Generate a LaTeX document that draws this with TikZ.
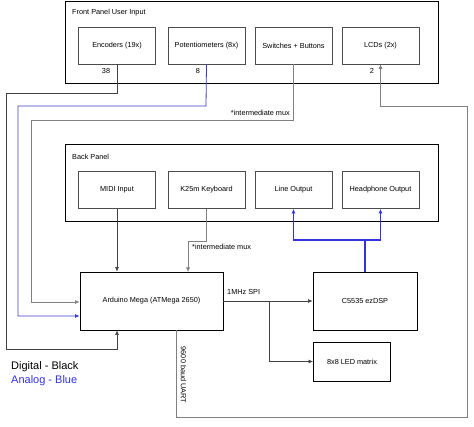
\documentclass[tikz,border=0pt]{standalone}
\usepackage{fontspec}
\setmainfont{Liberation Sans}
\usetikzlibrary{arrows.meta}
\definecolor{anblue}{RGB}{60,60,200}
\definecolor{audblue}{RGB}{50,50,225}
\begin{document}
\begin{tikzpicture}[x=1pt,y=-1pt,
  panel/.style={draw=black,line width=0.9pt},
  box/.style={draw=black!70,line width=0.6pt,minimum width=77pt,minimum height=37pt,font=\fontsize{7.3}{8}\selectfont,inner sep=0pt},
  bigbox/.style={draw=black,line width=0.8pt,minimum height=58pt,font=\fontsize{7.3}{8}\selectfont,inner sep=0pt},
  lbl/.style={font=\fontsize{7.3}{8}\selectfont,inner sep=0pt},
  wire/.style={draw=black!75,line width=0.6pt},
  mux/.style={draw=black!50,line width=0.6pt},
  tip/.style={-{Latex[length=4.5pt,width=4pt]}},
  analog/.style={draw=anblue,line width=0.8pt},
  audio/.style={draw=audblue,line width=1.1pt}]
\useasboundingbox (0,0) rectangle (474,427);
% panels
\draw[panel] (65,1) rectangle (438,83);
\node[lbl,anchor=west] (fplabel) at (72,13) {Front Panel User Input};
\draw[panel] (65,144) rectangle (438,221);
\node[lbl,anchor=west] (bplabel) at (72,157) {Back Panel};
% front panel boxes
\node[box] (enc) at (117,45.5) {Encoders (19x)};
\node[box] (pot) at (206.5,45.5) {Potentiometers (8x)};
\node[box] (sw) at (293.5,45.5) {Switches + Buttons};
\node[box] (lcd) at (380.5,45.5) {LCDs (2x)};
% back panel boxes
\node[box] (midi) at (117,190) {MIDI Input};
\node[box] (kb) at (206.5,190) {K25m Keyboard};
\node[box] (line) at (293.5,190) {Line Output};
\node[box] (hp) at (380.5,190) {Headphone Output};
% main boxes
\node[bigbox,minimum width=143pt] (ard) at (151.5,301) {Arduino Mega (ATMega 2650)};
\node[bigbox,minimum width=104pt] (dsp) at (365,301) {C5535 ezDSP};
\node[bigbox,minimum width=77pt,minimum height=39pt] (led) at (352,361.5) {8x8 LED matrix};
% count labels
\node[lbl] (n38) at (106,71) {38};
\node[lbl] (n8) at (198,71) {8};
\node[lbl] (n2) at (372,71) {2};
% encoders
\draw[wire,tip] (enc.south) -- (117,93) -- (6,93) -- (6,349) -- (117,349) -- (enc.south |- ard.south);
% potentiometers (analog)
\draw[analog,tip] (pot.south) -- (206,106) -- (18,106) -- (18,316) -- (ard.west |- 0,316);
% switches
\draw[mux,tip] (sw.south) -- (293.5,120) -- (31,120) -- (31,302) -- (ard.west |- 0,302);
\node[lbl,anchor=east] (mux1) at (290,113) {*intermediate mux};
% LCD via UART
\coordinate (uart) at (176,330);
\draw[mux,tip] (ard.south -| uart) -- (176,417) -- (467,417) -- (467,106) -- (380.5,106) -- (lcd.south);
\node[lbl,rotate=-90] (uartlbl) at (183.5,375) {9600 baud UART};
% midi
\draw[wire,tip] (midi.south) -- (midi.south |- ard.north);
% keyboard
\draw[mux,tip] (kb.south) -- (206.5,241) -- (188,241) -- (188,272);
\node[lbl,anchor=west] (mux2) at (192,247) {*intermediate mux};
% audio
\draw[audio,tip] (dsp.north) -- (365,240) -- (293.5,240) -- (line.south);
\draw[audio,tip] (365,240) -- (380.5,240) -- (hp.south);
% SPI
\draw[wire,tip] (ard.east) -- (dsp.west);
\draw[wire,tip] (269,301) -- (269,361.5) -- (led.west);
\node[lbl,anchor=west] (spi) at (227,292) {1MHz SPI};
% legend
\node[anchor=west,inner sep=0pt,font=\fontsize{11}{12}\selectfont] (dig) at (11,367) {Digital - Black};
\node[anchor=west,inner sep=0pt,font=\fontsize{11}{12}\selectfont,text=audblue] (ana) at (11,381) {Analog - Blue};
\end{tikzpicture}
\end{document}
